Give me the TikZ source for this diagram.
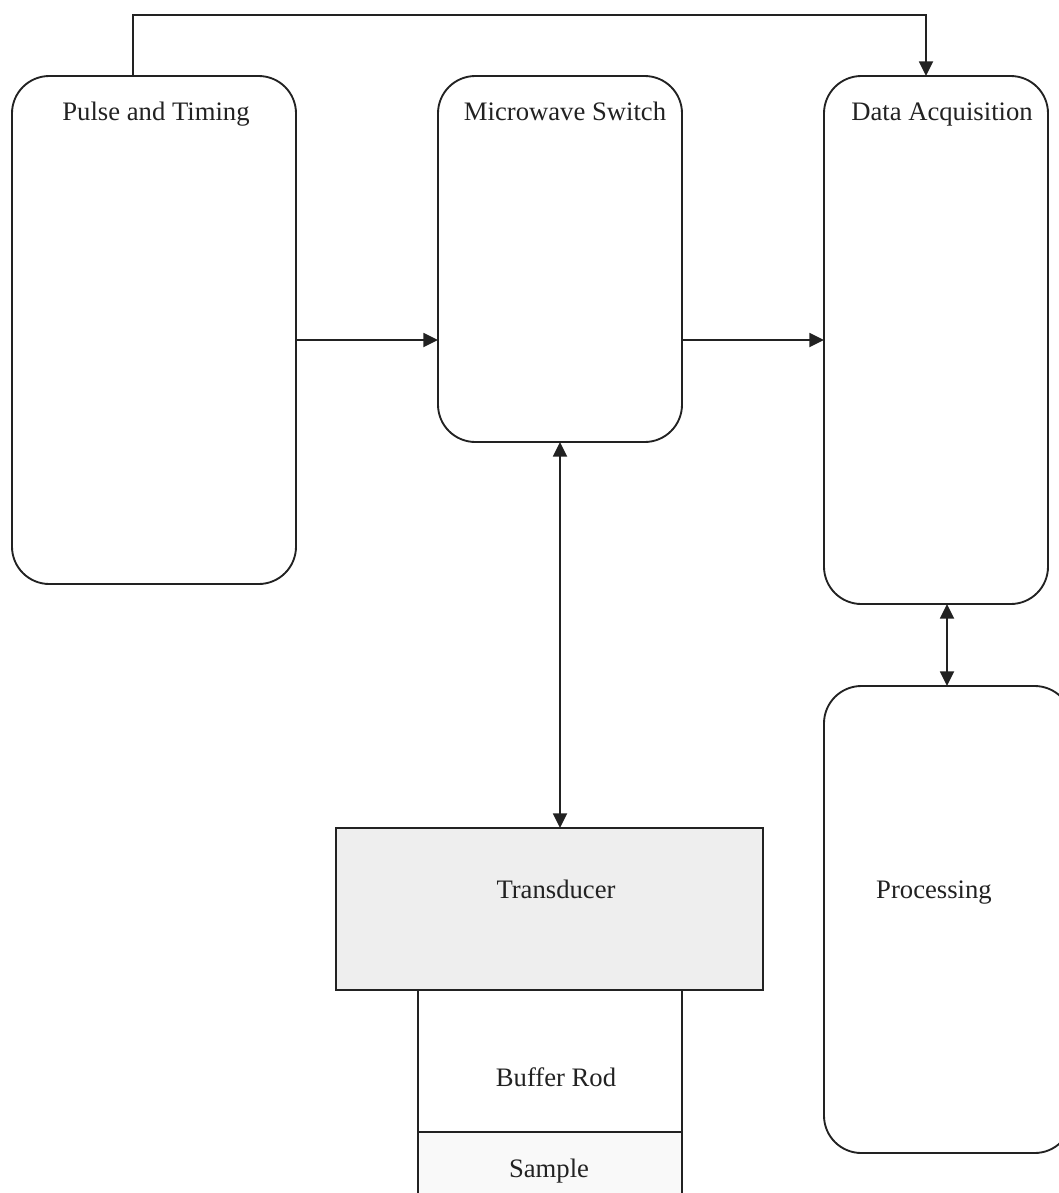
\documentclass[tikz,border=0pt]{standalone}
\usepackage{fontspec}
\setmainfont{Liberation Serif}
\usetikzlibrary{arrows.meta}
\definecolor{trfill}{HTML}{EEEEEE}
\definecolor{smfill}{HTML}{F9F9F9}
\definecolor{ink}{HTML}{222222}
\begin{document}
\begin{tikzpicture}[x=0.75pt,y=-0.75pt,
  rbox/.style={draw=ink,line width=1.4pt,rounded corners=28pt,inner sep=0pt,outer sep=0pt,fill=white},
  sbox/.style={draw=ink,line width=1.4pt,inner sep=0pt,outer sep=0pt},
  lbl/.style={text=ink,font=\fontsize{20}{24}\selectfont,inner sep=0pt,anchor=base},
  arr/.style={draw=ink,line width=1.4pt,-{Triangle[length=11pt,width=10.5pt]}},
  darr/.style={draw=ink,line width=1.4pt,{Triangle[length=11pt,width=10.5pt]}-{Triangle[length=11pt,width=10.5pt]}}]
\useasboundingbox (0,0) rectangle (1058,1193);
% boxes
\node[rbox,minimum width=213pt,minimum height=381pt] (pt) at (154,330) {};
\node[rbox,minimum width=183pt,minimum height=274.5pt] (mw) at (560,259) {};
\node[rbox,minimum width=168pt,minimum height=396pt] (da) at (936,340) {};
\node[rbox,minimum width=186pt,minimum height=350.25pt] (pr) at (948,919.5) {};
\node[sbox,fill=trfill,minimum width=320.25pt,minimum height=121.5pt] (td) at (549.5,909) {};
\node[sbox,fill=white,minimum width=198pt,minimum height=106.5pt] (br) at (550,1061) {};
\node[sbox,fill=smfill,minimum width=198pt,minimum height=62.25pt] (sm) at (550,1173.5) {};
% labels
\node[lbl] (ptl) at (156,120) {Pulse and Timing};
\node[lbl] (mwl) at (565,120) {Microwave Switch};
\node[lbl] (dal) at (942,120) {Data Acquisition};
\node[lbl] (prl) at (934,898) {Processing};
\node[lbl] (tdl) at (556,898) {Transducer};
\node[lbl] (brl) at (556,1086) {Buffer Rod};
\node[lbl] (sml) at (549,1177) {Sample};
% connectors
\coordinate (c1) at (133,15);
\coordinate (c2) at (926,15);
\coordinate (y1) at (0,340);
\coordinate (x1) at (947,0);
\draw[arr] (c1 |- pt.north) -- (c1) -- (c2) -- (c2 |- da.north);
\draw[arr] (pt.east |- y1) -- (mw.west |- y1);
\draw[arr] (mw.east |- y1) -- (da.west |- y1);
\draw[darr] (mw.south) -- (mw.south |- td.north);
\draw[darr] (x1 |- da.south) -- (x1 |- pr.north);
\end{tikzpicture}
\end{document}
